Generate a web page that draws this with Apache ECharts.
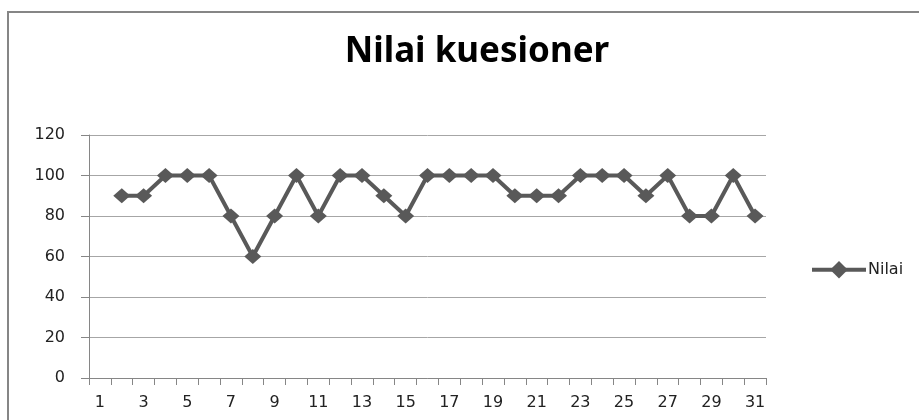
<!DOCTYPE html>
<html>
<head>
<meta charset="utf-8">
<script src="https://cdn.jsdelivr.net/npm/echarts@6/dist/echarts.min.js"></script>
<style>
  html, body { margin: 0; padding: 0; background: #fff; }
  #chart { width: 919px; height: 420px; }
</style>
</head>
<body>
<div id="chart"></div>
<script>
// nomor responden 1..31
var categories = [];
for (var i = 1; i <= 31; i++) categories.push(String(i));

// nilai kuesioner (responden 1 kosong)
var nilai = [null, 90, 90, 100, 100, 100, 80, 60, 80, 100, 80, 100, 100, 90, 80,
  100, 100, 100, 100, 90, 90, 90, 100, 100, 100, 90, 100, 80, 80, 100, 80];

var yTicks = [0, 20, 40, 60, 80, 100, 120];

var myChart = echarts.init(document.getElementById('chart'));
var font = '"DejaVu Sans", "Noto Sans", sans-serif';

var option = {
  animation: false,
  backgroundColor: '#fff',
  title: {
    text: 'Nilai kuesioner',
    left: 472,
    textAlign: 'center',
    top: 30,
    textStyle: { fontFamily: '"Noto Sans", sans-serif', fontSize: 35, fontWeight: 'bold', color: '#000' }
  },
  graphic: [{
    type: 'rect',
    shape: { x: 8, y: 12, width: 940, height: 430 },
    style: { fill: 'none', stroke: '#868686', lineWidth: 2 },
    silent: true
  }],
  legend: {
    data: ['Nilai'],
    left: 805,
    top: 256,
    itemWidth: 54,
    itemHeight: 22,
    itemGap: 2,
    lineStyle: { width: 4, color: '#595959' },
    itemStyle: { color: '#595959' },
    textStyle: { fontFamily: font, fontSize: 16, color: '#222', padding: [0, 0, 0, -3] }
  },
  grid: { left: 89, right: 153, top: 135, bottom: 42 },
  xAxis: {
    type: 'category',
    data: categories,
    boundaryGap: true,
    axisLine: { lineStyle: { color: '#868686', width: 1 } },
    axisTick: { show: true, interval: 0, length: 7, lineStyle: { color: '#868686' } },
    axisLabel: { interval: 1, margin: 17, fontFamily: font, fontSize: 16, color: '#222' }
  },
  yAxis: {
    type: 'value',
    min: yTicks[0],
    max: yTicks[yTicks.length - 1],
    interval: 20,
    axisLine: { show: true, lineStyle: { color: '#868686', width: 1 } },
    axisTick: { show: true, length: 8, lineStyle: { color: '#868686' } },
    axisLabel: { margin: 24, fontFamily: font, fontSize: 16, color: '#222' },
    splitLine: { lineStyle: { color: '#a6a6a6', width: 1 } }
  },
  series: [{
    name: 'Nilai',
    type: 'line',
    data: nilai,
    symbol: 'diamond',
    symbolSize: [17, 15],
    showAllSymbol: true,
    lineStyle: { color: '#595959', width: 4 },
    itemStyle: { color: '#595959', borderWidth: 0 }
  }]
};

option && myChart.setOption(option);
</script>
</body>
</html>
